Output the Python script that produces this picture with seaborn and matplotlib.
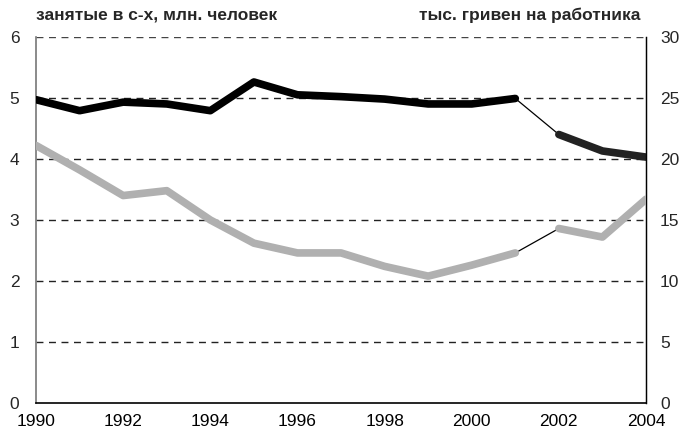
import numpy as np
import pandas as pd
import matplotlib
matplotlib.use("Agg")
import matplotlib.pyplot as plt
import seaborn as sns

# values
years = list(range(1990, 2005))
employed = [4.97, 4.79, 4.93, 4.90, 4.79, 5.26, 5.05, 5.02, 4.98, 4.90, 4.90, 4.99, 4.40, 4.13, 4.03]
income = [21.1, 19.1, 17.0, 17.4, 15.0, 13.1, 12.3, 12.3, 11.2, 10.4, 11.3, 12.3, 14.3, 13.6, 16.7]
left_title = "занятые в с-х, млн. человек"
right_title = "тыс. гривен на работника"

df = pd.DataFrame({"year": years, "employed": employed, "income": income})
part1 = df[df.year <= 2001]
part2 = df[df.year >= 2002]
gap = df[(df.year >= 2001) & (df.year <= 2002)]

sns.set_style("white")
plt.rcParams["font.family"] = ["Liberation Sans", "DejaVu Sans"]

fig = plt.figure(figsize=(6.8, 4.33), dpi=100)
ax = fig.add_axes([0.053, 0.069, 0.897, 0.846])
ax2 = ax.twinx()

# grid on left axis
for v in range(1, 6):
    ax.axhline(v, color="#222222", ls=(0, (5, 4)), lw=1, zorder=0)
ax.axhline(6, color="#444444", ls=(0, (5, 4)), lw=1, zorder=0)

# black series (left axis)
sns.lineplot(data=part1, x="year", y="employed", ax=ax, color="black", lw=5.5, zorder=3)
sns.lineplot(data=part2, x="year", y="employed", ax=ax, color="#222222", lw=5.5, zorder=3)
sns.lineplot(data=gap, x="year", y="employed", ax=ax, color="black", lw=0.9, zorder=2)

# grey series (right axis)
sns.lineplot(data=part1, x="year", y="income", ax=ax2, color="#b0b0b0", lw=5.5, zorder=3)
sns.lineplot(data=part2, x="year", y="income", ax=ax2, color="#b0b0b0", lw=5.5, zorder=3)
sns.lineplot(data=gap, x="year", y="income", ax=ax2, color="black", lw=0.9, zorder=2)

ax.set_xlim(1990, 2004)
ax.set_ylim(0, 6)
ax2.set_ylim(0, 30)
ax.set_yticks(range(0, 7))
ax2.set_yticks(range(0, 31, 5))
ax.set_xticks(range(1990, 2005, 2))
ax.set_xticks(range(1991, 2005, 2), minor=True)

for a in (ax, ax2):
    a.set_xlabel("")
    a.set_ylabel("")
    a.spines["top"].set_visible(False)

ax.spines["left"].set_color("#777777")
ax.spines["left"].set_linewidth(1.2)
ax.spines["bottom"].set_color("black")
ax.spines["bottom"].set_linewidth(1.2)
ax2.spines["left"].set_visible(False)
ax2.spines["bottom"].set_visible(False)
ax2.spines["right"].set_color("black")
ax2.spines["right"].set_linewidth(1.0)

ax.tick_params(axis="x", which="major", direction="in", length=8, width=0.9,
               colors="#555555", labelcolor="black", labelsize=12.5, pad=8)
ax.tick_params(axis="x", which="minor", direction="in", length=5, width=0.9, colors="#555555")
ax.tick_params(axis="y", length=0, labelsize=12.5, pad=12)
ax2.tick_params(axis="y", length=0, labelsize=12.5, pad=10)

fig.text(0.053, 0.948, left_title, fontsize=12.5, fontweight="bold", ha="left", va="bottom")
fig.text(0.942, 0.948, right_title, fontsize=12.5, fontweight="bold", ha="right", va="bottom")

fig.savefig("out.png", dpi=100)
